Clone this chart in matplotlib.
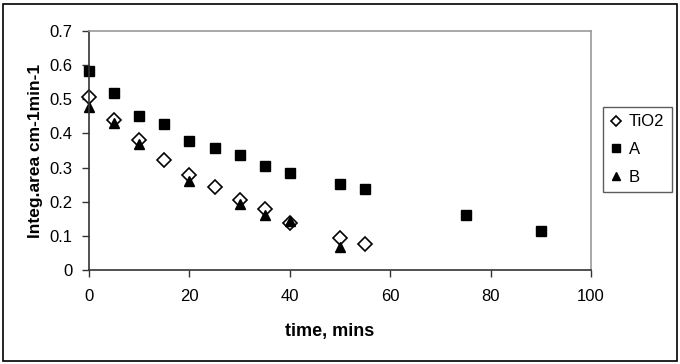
import matplotlib.pyplot as plt
from matplotlib.patches import Rectangle

# data
t_tio2 = [0, 5, 10, 15, 20, 25, 30, 35, 40, 50, 55]
tio2 = [0.508, 0.440, 0.380, 0.322, 0.279, 0.242, 0.204, 0.180, 0.139, 0.094, 0.076]

t_a = [0, 5, 10, 15, 20, 25, 30, 35, 40, 50, 55, 75, 90]
a_vals = [0.583, 0.518, 0.451, 0.428, 0.378, 0.357, 0.337, 0.305, 0.284, 0.252, 0.237, 0.161, 0.114]

t_b = [0, 5, 10, 20, 30, 35, 40, 50]
b_vals = [0.478, 0.430, 0.368, 0.260, 0.192, 0.161, 0.143, 0.068]

plt.rcParams['font.family'] = ['Liberation Sans', 'DejaVu Sans']

fig = plt.figure(figsize=(6.8, 3.64), dpi=100)
ax = fig.add_axes([89 / 680, 1 - 270 / 364, (591 - 89) / 680, (270 - 31) / 364])

ax.plot(t_tio2, tio2, linestyle='none', marker='D', ms=7, mfc='white', mec='black', mew=1.2,
        label='TiO2', clip_on=False)
ax.plot(t_a, a_vals, linestyle='none', marker='s', ms=6.5, color='black', label='A', clip_on=False)
ax.plot(t_b, b_vals, linestyle='none', marker='^', ms=7.5, color='black', label='B', clip_on=False)

ax.set_xlim(0, 100)
ax.set_ylim(0, 0.7)
ax.set_xticks([0, 20, 40, 60, 80, 100])
ax.set_yticks([0, 0.1, 0.2, 0.3, 0.4, 0.5, 0.6, 0.7])
ax.set_yticklabels(['0', '0.1', '0.2', '0.3', '0.4', '0.5', '0.6', '0.7'])
ax.tick_params(labelsize=12, length=5, width=1, color='#333333', direction='out')
ax.tick_params(axis='x', pad=9)
ax.tick_params(axis='y', pad=7)

for side in ['left', 'bottom']:
    ax.spines[side].set_color('#333333')
    ax.spines[side].set_linewidth(1.2)
for side in ['top', 'right']:
    ax.spines[side].set_color('#999999')
    ax.spines[side].set_linewidth(1.2)

ax.set_xlabel('time, mins', fontsize=13, fontweight='bold')
ax.xaxis.set_label_coords(0.48, -0.22)
ax.set_ylabel('Integ.area cm-1min-1', fontsize=12.5, fontweight='bold')
ax.yaxis.set_label_coords(-0.092, 0.5)

leg = fig.legend(loc='upper left', bbox_to_anchor=(603 / 680, 1 - 107 / 364), fontsize=12,
                 frameon=True, fancybox=False, handlelength=0.6, handletextpad=0.5,
                 labelspacing=0.75, borderpad=0.45, borderaxespad=0, markerscale=0.8)
leg.get_frame().set_edgecolor('#333333')
leg.get_frame().set_linewidth(1.0)

# outer chart border
fig.patches.append(Rectangle((3 / 680, 3 / 364), 674 / 680, 357 / 364, transform=fig.transFigure,
                             fill=False, edgecolor='black', linewidth=1.2))

fig.savefig('out.png', dpi=100)
